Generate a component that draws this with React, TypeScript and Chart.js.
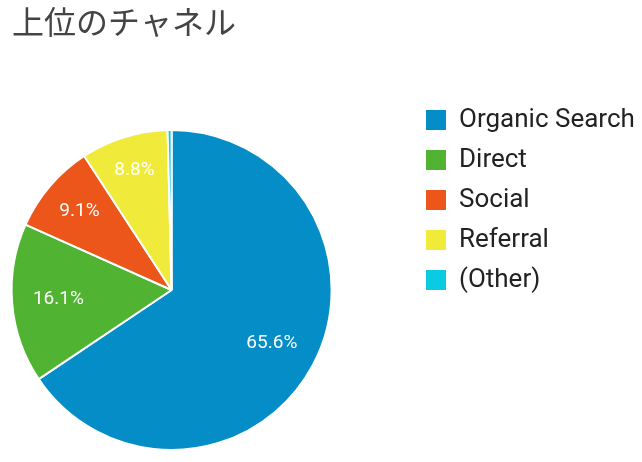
import { useEffect, useRef } from 'react';
import { Chart, registerables } from 'chart.js';

Chart.register(...registerables);

const title = '上位のチャネル';
const channels = ['Organic Search', 'Direct', 'Social', 'Referral', '(Other)'];
const shares = [65.6, 16.1, 9.1, 8.8, 0.4];
const colors = ['#058dc7', '#50b432', '#ed561b', '#f0eb3a', '#0bcbe3'];

// smallest gap allowed between a label's box and its slice edges
const LABEL_MARGIN = 13.5;

// percent text inside each slice (tiny slices get none);
// the text starts at 0.71r and slides outward until its box clears both slice edges
const sliceLabels = {
    id: 'sliceLabels',
    afterDatasetsDraw(chart: any) {
        const { ctx } = chart;
        const meta = chart.getDatasetMeta(0);
        ctx.save();
        ctx.font = '19px Roboto';
        ctx.fillStyle = '#ffffff';
        ctx.textAlign = 'center';
        ctx.textBaseline = 'middle';
        meta.data.forEach((arc: any, i: number) => {
            const value = shares[i];
            if (value < 1) return;
            const text = value.toFixed(1) + '%';
            const { x, y, startAngle, endAngle, outerRadius } = arc.getProps(
                ['x', 'y', 'startAngle', 'endAngle', 'outerRadius'], true);
            const mid = (startAngle + endAngle) / 2;
            const hw = ctx.measureText(text).width / 2;
            const hh = 6.7;
            const clearance = (d: number) => {
                const cx = Math.cos(mid) * d;
                const cy = Math.sin(mid) * d;
                let m = Infinity;
                for (const [px, py] of [[cx - hw, cy - hh], [cx + hw, cy - hh], [cx - hw, cy + hh], [cx + hw, cy + hh]]) {
                    const a = Math.cos(startAngle) * py - Math.sin(startAngle) * px;
                    const b = -(Math.cos(endAngle) * py - Math.sin(endAngle) * px);
                    m = Math.min(m, a, b);
                }
                return m;
            };
            let d = outerRadius * 0.71;
            if (endAngle - startAngle < Math.PI) {
                while (d < outerRadius * 0.9 && clearance(d) < LABEL_MARGIN) d += 0.5;
            }
            ctx.fillText(text, x + Math.cos(mid) * d, y + Math.sin(mid) * d);
        });
        ctx.restore();
    }
};

// move the legend block up/right, away from the pie
const legendPlacement = {
    id: 'legendPlacement',
    afterLayout(chart: any) {
        const legend = chart.legend;
        if (!legend) return;
        const dx = 412 - legend.left;
        const dy = 93 - legend.top;
        legend.left += dx;
        legend.right += dx;
        legend.top += dy;
        legend.bottom += dy;
    }
};

function App() {
    const canvasRef = useRef<HTMLCanvasElement>(null);

    useEffect(() => {
        document.body.style.margin = '0';
        if (!canvasRef.current) return;

        const chart = new Chart(canvasRef.current, {
            type: 'pie',
            data: {
                labels: channels,
                datasets: [{
                    data: shares,
                    backgroundColor: colors,
                    borderColor: '#ffffff',
                    borderWidth: 2,
                    hoverOffset: 0
                }]
            },
            options: {
                animation: false,
                responsive: true,
                maintainAspectRatio: false,
                radius: 160,
                layout: {
                    padding: { left: 12, top: 0, right: 78, bottom: 12 }
                },
                plugins: {
                    title: {
                        display: true,
                        text: title,
                        align: 'start',
                        color: '#444444',
                        font: { family: "'Noto Sans CJK JP', sans-serif", size: 32, weight: 'normal', lineHeight: 1.2 },
                        padding: { top: 3, bottom: 88.6 }
                    },
                    legend: {
                        position: 'right',
                        align: 'start',
                        labels: {
                            boxWidth: 20,
                            boxHeight: 20,
                            padding: 14,
                            color: '#222222',
                            font: { family: 'Roboto', size: 26 },
                            generateLabels: (c: any) =>
                                Chart.overrides.pie.plugins.legend.labels
                                    .generateLabels(c)
                                    .map((item: any) => ({ ...item, lineWidth: 0 }))
                        }
                    },
                    tooltip: { enabled: false }
                }
            } as any,
            plugins: [sliceLabels, legendPlacement]
        });

        return () => chart.destroy();
    }, []);

    return (
        <div style={{ position: 'relative', width: 642, height: 462 }}>
            <canvas ref={canvasRef} />
        </div>
    );
}

export default App;
